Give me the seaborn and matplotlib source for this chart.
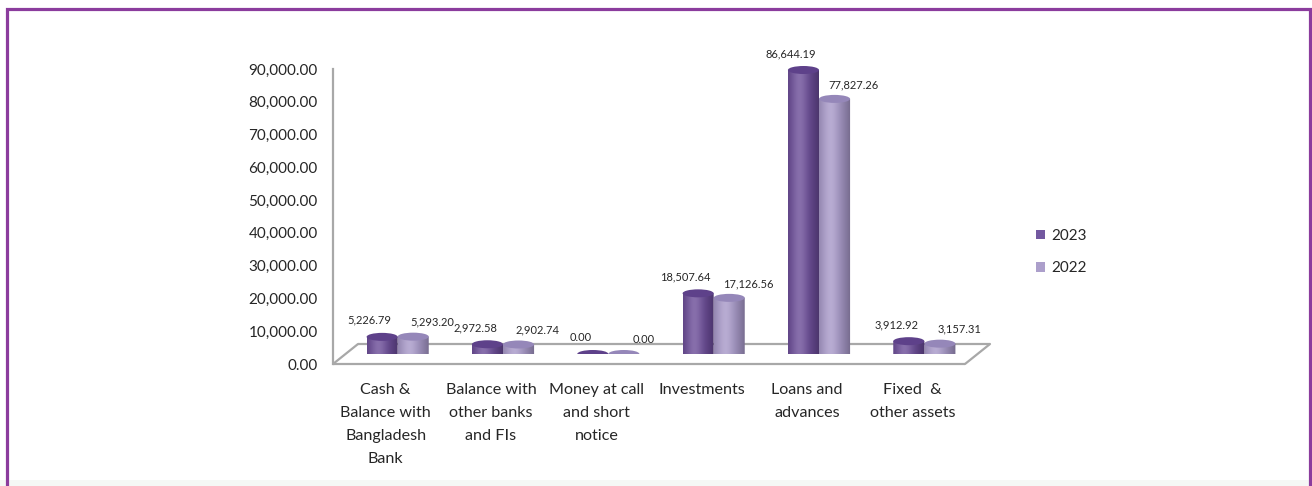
import numpy as np
import pandas as pd
import matplotlib
matplotlib.use("Agg")
import matplotlib.pyplot as plt
import seaborn as sns
import matplotlib.colors as mcolors
from matplotlib.patches import Ellipse, Polygon, Patch, Rectangle
from matplotlib.transforms import ScaledTranslation

# ---- data -------------------------------------------------------------
categories = [
    "Cash &\nBalance with\nBangladesh\nBank",
    "Balance with\nother banks\nand FIs",
    "Money at call\nand short\nnotice",
    "Investments",
    "Loans and\nadvances",
    "Fixed  &\nother assets",
]
series_names = ["2023", "2022"]
values_2023 = [5226.79, 2972.58, 0.00, 18507.64, 86644.19, 3912.92]
values_2022 = [5293.20, 2902.74, 0.00, 17126.56, 77827.26, 3157.31]
y_ticks = [0, 10000, 20000, 30000, 40000, 50000, 60000, 70000, 80000, 90000]
y_tick_labels = [f"{v:,.2f}" for v in y_ticks]

# ---- styling ----------------------------------------------------------
BODY = {"2023": "#694A96", "2022": "#A697C7"}
TOP = {"2023": "#5E418A", "2022": "#9587B9"}
LEGEND = {"2023": "#7358A0", "2022": "#AC9FCB"}
FRAME = "#8B3C9D"
FLOOR = "#A8A8A8"
TEXT = "#262626"

sns.set_theme(style="white")
plt.rcParams["font.family"] = ["Lato", "DejaVu Sans"]

W, H, DPI = 1312, 486, 100
fig = plt.figure(figsize=(W / DPI, H / DPI), dpi=DPI)
fig.patch.set_facecolor("white")


def box(left, top, width, height):
    """Figure-fraction rectangle from a pixel box measured from the top-left."""
    return [left / W, 1 - (top + height) / H, width / W, height / H]


# page frame
bg = fig.add_axes([0, 0, 1, 1], zorder=-5)
bg.set_xlim(0, W)
bg.set_ylim(H, 0)
bg.axis("off")
bg.add_patch(Rectangle((0, 480), W, 6, facecolor="#F5F8F5", edgecolor="none"))
bg.plot([6.5, 6.5, 1309.5, 1309.5], [H, 9.5, 9.5, H], color=FRAME, lw=2.3,
        solid_joinstyle="miter")

# ---- value axis and floor --------------------------------------------
ax = fig.add_axes(box(333, 69, 632, 295))
ax.patch.set_alpha(0)
ax.set_xlim(-0.5, len(categories) - 0.5)
ax.set_ylim(y_ticks[0], y_ticks[-1])
ax.set_yticks(y_ticks, y_tick_labels)
ax.set_xticks(range(len(categories)), categories)
ax.tick_params(axis="y", length=0, pad=11, labelsize=11, labelcolor=TEXT)
ax.tick_params(axis="x", length=0, pad=13.5, labelsize=11.6, labelcolor=TEXT)
for lbl in ax.get_xticklabels():
    lbl.set_linespacing(1.82)
for side in ["top", "right", "bottom"]:
    ax.spines[side].set_visible(False)
ax.spines["left"].set_color(FLOOR)
ax.spines["left"].set_linewidth(1.6)
ax.grid(False)

# floor: front edge, back edge shifted in depth, and the two side edges
depth_px = (25, 20)
back = ax.transData + ScaledTranslation(depth_px[0] / DPI, depth_px[1] / DPI,
                                        fig.dpi_scale_trans)
x0, x1 = ax.get_xlim()
ax.plot([x0, x1], [0, 0], color=FLOOR, lw=1.6, clip_on=False,
        solid_capstyle="butt")
ax.plot([x0, x1], [0, 0], color=FLOOR, lw=1.6, clip_on=False,
        transform=back, solid_capstyle="butt")
for xe in (x0, x1):
    ax.annotate("", xy=(xe, 0), xycoords="data",
                xytext=(depth_px[0] * 72 / DPI, depth_px[1] * 72 / DPI),
                textcoords="offset points",
                arrowprops=dict(arrowstyle="-", color=FLOOR, lw=1.6,
                                shrinkA=0, shrinkB=0))

# ---- cylinders --------------------------------------------------------
bx = fig.add_axes(box(333 + 12, 69 - 10, 632, 295), zorder=2)
bx.patch.set_alpha(0)

df = pd.DataFrame({
    "category": categories * 2,
    "value": values_2023 + values_2022,
    "year": [series_names[0]] * len(categories) + [series_names[1]] * len(categories),
})
sns.barplot(data=df, x="category", y="value", hue="year", hue_order=series_names,
            palette=[BODY[s] for s in series_names], width=0.59, saturation=1,
            errorbar=None, legend=False, ax=bx)
bx.set_xlim(ax.get_xlim())
bx.set_ylim(ax.get_ylim())
bx.axis("off")

ell_h = 8 / 295 * (y_ticks[-1] - y_ticks[0])   # ellipse height in data units


def shade(color, n=80):
    rgb = np.array(mcolors.to_rgb(color))
    t = np.linspace(0, 1, n)
    glow = np.exp(-((t - 0.36) / 0.26) ** 2)
    dark = (np.abs(t - 0.36) / 0.64) ** 1.6
    col = rgb + (1 - rgb) * (0.20 * glow)[:, None] - rgb * (0.30 * dark)[:, None]
    col = np.clip(col, 0, 1)
    rgba = np.concatenate([col, np.ones((n, 1))], axis=1)
    return rgba[None, :, :]


label_offsets = {"2023": (-9, 9), "2022": (14, 7.5)}
draw_order = {"2023": 4, "2022": 3}

for name, container in zip(series_names, bx.containers):
    grad = shade(BODY[name])
    z = draw_order[name]
    for p in container.patches:
        x, w, h = p.get_x(), p.get_width(), p.get_height()
        p.set_visible(False)
        t = np.linspace(np.pi, 2 * np.pi, 60)
        arc = np.column_stack([x + w / 2 + w / 2 * np.cos(t), ell_h / 2 * np.sin(t)])
        verts = np.vstack([[x, h], arc, [x + w, h]])
        clip = Polygon(verts, closed=True, facecolor="none", edgecolor="none",
                       transform=bx.transData)
        bx.add_patch(clip)
        img = bx.imshow(grad, extent=[x, x + w, -ell_h / 2, h], aspect="auto",
                        interpolation="bilinear", zorder=z)
        img.set_clip_path(clip)
        bx.add_patch(Ellipse((x + w / 2, h), w, ell_h, facecolor=TOP[name],
                             edgecolor="none", zorder=z + 0.5))
        bx.annotate(f"{h:,.2f}", xy=(x + w / 2, h + ell_h / 2),
                    xytext=label_offsets[name], textcoords="offset points",
                    ha="center", va="center", fontsize=8, color=TEXT,
                    zorder=10)

bx.set_xlim(ax.get_xlim())
bx.set_ylim(ax.get_ylim())

# ---- legend -----------------------------------------------------------
handles = [Patch(facecolor=LEGEND[s], edgecolor="none") for s in series_names]
fig.legend(handles, series_names, loc="center left",
           bbox_to_anchor=(1036 / W, 1 - 252 / H), frameon=False, fontsize=11,
           handlelength=0.6, handleheight=0.6, handletextpad=0.4,
           labelspacing=1.2, borderpad=0, borderaxespad=0, labelcolor=TEXT)

fig.savefig("out.png", dpi=DPI)
